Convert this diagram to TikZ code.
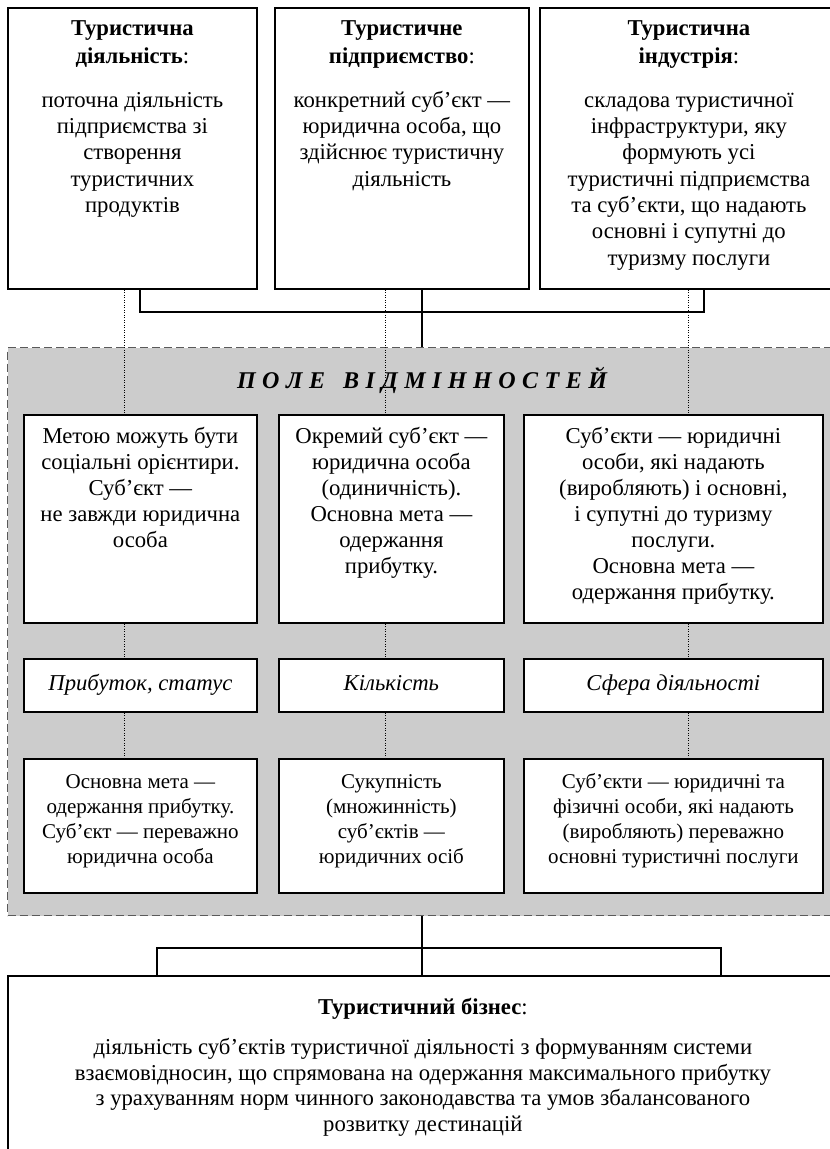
\documentclass[tikz,border=0pt]{standalone}
\usepackage{fontspec}
\setmainfont{Liberation Serif}
\definecolor{regiongray}{RGB}{204,204,204}
\definecolor{dashgray}{RGB}{90,90,90}
\tikzset{
  box/.style={draw, line width=1.8pt, fill=white, inner sep=0pt, anchor=north west},
  lbl/.style={box, font=\fontsize{22.7}{26}\selectfont\itshape, text height=16pt, text depth=5pt},
  conn/.style={line width=1.8pt},
  dotl/.style={line width=0.9pt, dash pattern=on 0.9pt off 1.6pt},
  region/.style={draw=dashgray, fill=regiongray, dash pattern=on 8pt off 4pt, line width=1pt, inner sep=0pt, anchor=north west},
}
% width, height, first-baseline, baselineskip, font size, text
\newcommand\bxs[6]{\parbox[c][#2pt][t]{#1pt}{\centering\fontsize{#5}{#4}\selectfont\rule{0pt}{#3pt}#6\par}}
\newcommand\bxt[5]{\bxs{#1}{#2}{#3}{#4}{22.7}{#5}}
\newcommand\spl{\hspace{6.5pt}}
\begin{document}
\begin{tikzpicture}[x=1pt,y=-1pt]
\useasboundingbox (0,0) rectangle (830,1149);
\clip (0,0) rectangle (830,1149);
% region
\node[region, minimum width=830pt, minimum height=568pt] (reg) at (7,347) {};
\node[font=\fontsize{24}{28}\selectfont\bfseries\itshape] (title) at (422,380)
  {П\spl О\spl Л\spl Е\hspace{18pt}В\spl І\spl Д\spl М\spl І\spl Н\spl Н\spl О\spl С\spl Т\spl Е\spl Й};
% guide coordinates
\coordinate (d1) at (124,0);
\coordinate (d2) at (385,0);
\coordinate (d3) at (688,0);
% top boxes
\node[box] (t1) at (7,7) {\bxt{249}{281}{28}{26.3}{\textbf{Туристична}\\[1.7pt]\textbf{діяльність}:\\[17pt]поточна діяльність\\підприємства зі\\створення\\туристичних\\продуктів}};
\node[box] (t2) at (274,7) {\bxt{254}{281}{28}{26.3}{\textbf{Туристичне}\\[1.7pt]\textbf{підприємство}:\\[17pt]конкретний суб’єкт —\\юридична особа, що\\здійснює туристичну\\діяльність}};
\node[box] (t3) at (539,7) {\bxt{298}{281}{28}{26.3}{\textbf{Туристична}\\[1.7pt]\textbf{індустрія}:\\[17pt]складова туристичної\\інфраструктури, яку\\формують усі\\туристичні підприємства\\та суб’єкти, що надають\\основні і супутні до\\туризму послуги}};
% middle boxes
\node[box] (m1) at (23,414) {\bxt{233}{208}{29}{25.9}{Метою можуть бути\\соціальні орієнтири.\\Суб’єкт —\\не завжди юридична\\особа}};
\node[box] (m2) at (278,414) {\bxt{225}{208}{29}{25.9}{Окремий суб’єкт —\\юридична особа\\(одиничність).\\Основна мета —\\одержання\\прибутку.}};
\node[box] (m3) at (523,414) {\bxt{299}{208}{29}{25.9}{Суб’єкти — юридичні\\особи, які надають\\(виробляють) і основні,\\і супутні до туризму\\послуги.\\Основна мета —\\одержання прибутку.}};
% labels
\node[lbl, minimum width=233pt, minimum height=53pt] (l1) at (23,658) {Прибуток, статус};
\node[lbl, minimum width=225pt, minimum height=53pt] (l2) at (278,658) {Кількість};
\node[lbl, minimum width=299pt, minimum height=53pt] (l3) at (523,658) {Сфера діяльності};
% bottom boxes
\node[box] (b1) at (23,758) {\bxs{233}{134}{30}{24.7}{21}{Основна мета —\\одержання прибутку.\\Суб’єкт — переважно\\юридична особа}};
\node[box] (b2) at (278,758) {\bxs{225}{134}{30}{24.7}{21}{Сукупність\\(множинність)\\суб’єктів —\\юридичних осіб}};
\node[box] (b3) at (523,758) {\bxs{299}{134}{30}{24.7}{21}{Суб’єкти — юридичні та\\фізичні особи, які надають\\(виробляють) переважно\\основні туристичні послуги}};
% final box
\node[box] (fin) at (7,975) {\bxt{830}{200}{39}{25.5}{\textbf{Туристичний бізнес}:\\[14.5pt]діяльність суб’єктів туристичної діяльності з формуванням системи\\взаємовідносин, що спрямована на одержання максимального прибутку\\з урахуванням норм чинного законодавства та умов збалансованого\\розвитку дестинацій}};
% dotted links
\foreach \c/\a/\b/\l/\m in {d1/t1/m1/l1/b1, d2/t2/m2/l2/b2, d3/t3/m3/l3/b3}{
  \draw[dotl] (\a.south -| \c) -- (\b.north -| \c);
  \draw[dotl] (\b.south -| \c) -- (\l.north -| \c);
  \draw[dotl] (\l.south -| \c) -- (\m.north -| \c);
}
% solid connectors
\coordinate (c1) at (140,312);
\coordinate (c2) at (422,312);
\coordinate (c3) at (704,312);
\draw[conn] (t1.south -| c1) -- (c1) -- (c3) -- (t3.south -| c3);
\draw[conn] (t2.south -| c2) -- (reg.north -| c2);
\coordinate (k1) at (157,948);
\coordinate (k2) at (422,948);
\coordinate (k3) at (721,948);
\draw[conn] (reg.south -| k2) -- (fin.north -| k2);
\draw[conn] (fin.north -| k1) -- (k1) -- (k3) -- (fin.north -| k3);
\end{tikzpicture}
\end{document}
